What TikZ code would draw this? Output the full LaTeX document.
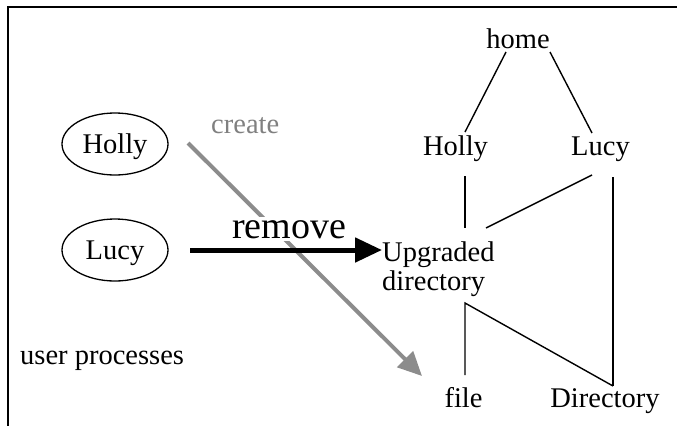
\documentclass[tikz,border=0pt]{standalone}
\usepackage{fontspec}
\setmainfont{Liberation Serif}
\usetikzlibrary{shapes.geometric,arrows.meta}
\begin{document}
\begin{tikzpicture}[x=1pt,y=-1pt,
  lbl/.style={inner sep=0pt,font=\fontsize{28.5}{29}\selectfont},
  proc/.style={ellipse,draw,line width=1.3pt,minimum width=106pt,minimum height=62pt,
    inner sep=2pt,text height=19pt,text depth=0pt,font=\fontsize{28.5}{29}\selectfont},
  tree/.style={line width=1.4pt},
  hatch/.style={line width=4pt,draw=black!45,-{Triangle[length=24pt,width=22pt]}},
  rem/.style={line width=5pt,-{Triangle[length=27pt,width=24pt]}}]
\useasboundingbox (0,0) rectangle (677,426);
% frame (top and left edges)
\draw[line width=1.4pt] (677,7) -- (8,7) -- (8,426);
% tree labels
\node[lbl,anchor=base] (home) at (518,48) {home};
\node[lbl,anchor=base] (th) at (455.5,155) {Holly};
\node[lbl,anchor=base] (tl) at (600.5,155) {Lucy};
\node[lbl,anchor=north west,align=left] (upg) at (382,241.5) {Upgraded\\directory};
\node[lbl,anchor=base] (file) at (463.5,407) {file};
\node[lbl,anchor=base] (dir) at (605,407) {Directory};
% tree connectors
\coordinate (h1) at (506,52);  \coordinate (h2) at (465,132);
\coordinate (h3) at (550,52);  \coordinate (h4) at (592,133);
\coordinate (a1) at (465,176); \coordinate (a2) at (465,228);
\coordinate (b1) at (592,175); \coordinate (b2) at (486,228);
\coordinate (c1) at (613,177); \coordinate (c2) at (613,386);
\coordinate (d1) at (465,375); \coordinate (d2) at (465,303);
\draw[tree] (h1) -- (h2);
\draw[tree] (h3) -- (h4);
\draw[tree] (a1) -- (a2);
\draw[tree] (b1) -- (b2);
\draw[tree] (c1) -- (c2);
\draw[tree] (d1) -- (d2) -- (c2);
% processes
\node[proc] (ph) at (115,144) {Holly};
\node[proc] (pl) at (115,250) {Lucy};
\node[lbl,anchor=base west] (up) at (20,364) {user processes};
% create
\node[lbl,anchor=base west,text=black!50] (cr) at (211,133) {create};
\coordinate (cs) at (188,143);
\coordinate (ce) at (422,376);
\draw[hatch] (cs) -- (ce);
% remove
\node[anchor=base west,fill=white,inner sep=3pt,font=\fontsize{38}{40}\selectfont] (rm) at (229,238) {remove};
\coordinate (rs) at (190,250);
\draw[rem] (rs) -- (upg.west |- rs);
\end{tikzpicture}
\end{document}
